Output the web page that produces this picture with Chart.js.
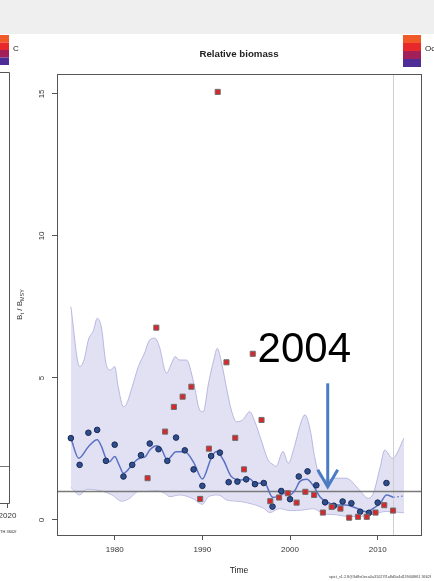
<!DOCTYPE html>
<html><head><meta charset="utf-8">
<script src="https://cdn.jsdelivr.net/npm/chart.js@4/dist/chart.umd.min.js"></script>
<style>html,body{margin:0;padding:0;background:#fff;}canvas{display:block;}</style>
</head><body>
<canvas id="c" width="434" height="581"></canvas>
<script>
// ---- data ----
const index1Years = [1975,1976,1977,1978,1979,1980,1981,1982,1983,1984,1985,1986,1987,1988,1989,1990,1991,1992,1993,1994,1995,1996,1997,1998,1999,2000,2001,2002,2003,2004,2005,2006,2007,2008,2009,2010,2011];
const index1Values = [2.88,1.94,3.07,3.17,2.08,2.65,1.53,1.94,2.28,2.69,2.49,2.08,2.90,2.45,1.78,1.20,2.25,2.37,1.33,1.35,1.43,1.26,1.30,0.47,1.02,0.73,1.53,1.71,1.22,0.62,0.50,0.65,0.59,0.29,0.25,0.61,1.30];

const index2Times = [1983.75,1984.75,1985.75,1986.75,1987.75,1988.75,1989.75,1990.75,1991.75,1992.75,1993.75,1994.75,1995.75,1996.75,1997.75,1998.75,1999.75,2000.75,2001.75,2002.75,2003.75,2004.75,2005.75,2006.75,2007.75,2008.75,2009.75,2010.75,2011.75];
const index2Values = [1.47,6.77,3.11,3.98,4.34,4.69,0.74,2.51,15.07,5.55,2.89,1.78,5.85,3.52,0.66,0.79,0.94,0.61,0.99,0.88,0.26,0.46,0.40,0.08,0.11,0.11,0.26,0.52,0.33];

const estTimes = [1975,1975.9,1977,1978,1978.5,1979,1979.4,1980,1980.5,1981,1981.5,1982,1982.5,1983,1983.5,1984,1984.8,1985.3,1986,1987,1988,1989,1990,1991,1991.6,1992.4,1993.3,1994.4,1995.4,1996,1997.1,1998,1998.6,1999.4,2000,2000.6,2001.1,2001.9,2002.6,2003.4,2004.1,2005.3,2006.4,2007.6,2008.7,2009.5,2010.3,2011,2011.75];
const estValues = [2.88,2.17,2.58,2.82,2.58,2.17,2.05,2.23,1.94,1.64,1.76,1.94,2.11,2.19,2.23,2.46,2.61,2.52,2.12,2.40,2.40,2.03,1.44,2.17,2.41,2.11,1.53,1.41,1.45,1.29,1.29,0.80,0.82,0.94,0.88,1.06,1.35,1.43,1.23,0.82,0.65,0.53,0.53,0.41,0.29,0.41,0.59,0.88,0.80];

const forecastTimes = [2011.75,2012.4,2013];
const forecastValues = [0.80,0.82,0.85];

const upperTimes = [1975,1976,1976.5,1977,1977.6,1978,1978.5,1979,1979.5,1980,1980.4,1981,1981.3,1982,1982.7,1983.4,1984,1984.6,1985.1,1985.9,1986.5,1986.9,1987.4,1988.2,1989,1989.7,1990.1,1990.7,1991.3,1991.7,1992.2,1992.8,1993.3,1993.9,1994.6,1995.4,1996,1996.7,1997.5,1998.1,1998.4,1999.2,1999.8,2000.5,2001.1,2001.7,2002.3,2002.8,2003.4,2004.3,2005.3,2006.4,2007.9,2008.9,2009.5,2010.3,2010.8,2011.7,2013];
const upperValues = [7.51,5.40,5.63,6.34,6.69,7.10,6.75,5.52,5.28,5.40,4.69,3.99,4.05,4.69,5.40,5.87,6.34,6.40,6.10,5.17,5.52,5.75,5.63,5.63,4.85,3.87,3.81,4.81,5.63,6.04,5.52,4.58,3.87,3.46,3.52,3.81,3.45,2.82,2.11,1.94,1.88,2.41,2.00,2.58,3.29,3.70,3.17,2.23,1.53,1.41,1.47,1.47,1.06,0.76,0.94,1.88,2.46,2.17,2.88];

const lowerTimes = [1975,1976,1976.8,1977.8,1978.7,1979.7,1980.8,1981.7,1982.7,1983.6,1984.7,1985.7,1986.3,1987.4,1989,1990,1990.7,1991.8,1992.8,1994.3,1995.8,1997,1997.7,1998.8,2000,2001.5,2002.6,2003.8,2005.3,2006.8,2008.3,2009.8,2011,2013];
const lowerValues = [1.15,0.88,1.08,1.06,1.00,0.88,0.66,0.76,1.00,1.00,1.03,0.94,0.82,0.88,0.74,0.55,0.82,0.88,0.70,0.65,0.55,0.41,0.26,0.40,0.33,0.35,0.40,0.23,0.18,0.12,0.13,0.23,0.30,0.25];

const xTicks = [1980,1990,2000,2010];
const yTicks = [0,5,10,15];
const xRange = [1973.42, 2014.94];
const yRange = [-0.53, 15.70];
const refLevel = 1;          // B/Bmsy = 1
const lastDataTime = 2011.75; // vertical grey line
const note = {text:'2004', time:1996.3, value:5.55, arrowTime:2004.3, arrowFrom:4.81, arrowTo:1.17};

const FONT = '"Liberation Sans", Arial, Helvetica, sans-serif';
const pts = (xs, ys) => xs.map((x,i)=>({x:x, y:ys[i]}));

const decor = {
  id:'decor',
  beforeDraw(chart){
    const ctx = chart.ctx;
    ctx.save();
    ctx.fillStyle='#fff'; ctx.fillRect(0,0,434,581);
    ctx.fillStyle='#efefef'; ctx.fillRect(0,0,434,34);
    const cols=['#f05a28','#e8292b','#a1205a','#4f2d96'];
    cols.forEach((c,i)=>{ ctx.fillStyle=c; ctx.fillRect(0,35+i*7.5,9,7.5); ctx.fillRect(403,35+i*8,18,8); });
    ctx.fillStyle='#222'; ctx.font='8px '+FONT; ctx.textBaseline='middle'; ctx.textAlign='left';
    ctx.fillText('C',13,49); ctx.fillText('Oc',425,49);
    // neighbouring panel edge on the left
    ctx.strokeStyle='#555'; ctx.lineWidth=1;
    ctx.beginPath(); ctx.moveTo(0,72.5); ctx.lineTo(9.5,72.5); ctx.lineTo(9.5,503.5); ctx.lineTo(0,503.5); ctx.stroke();
    ctx.strokeStyle='#777'; ctx.beginPath(); ctx.moveTo(0,466.5); ctx.lineTo(9,466.5); ctx.stroke();
    ctx.strokeStyle='#555'; ctx.beginPath(); ctx.moveTo(7.5,503.5); ctx.lineTo(7.5,508); ctx.stroke();
    ctx.fillStyle='#333'; ctx.textAlign='center'; ctx.fillText('2020',7.5,516);
    ctx.font='4px '+FONT; ctx.textAlign='left'; ctx.fillText('TH 3662f',0,532);
    ctx.restore();
  },
  beforeDatasetDraw(chart,args){
    if(args.index!==3) return;
    const ctx=chart.ctx, a=chart.chartArea, xs=chart.scales.x, ys=chart.scales.y;
    ctx.save();
    ctx.strokeStyle='#cfcfcf'; ctx.lineWidth=1;
    const vx=Math.round(xs.getPixelForValue(lastDataTime))+0.5;
    ctx.beginPath(); ctx.moveTo(vx,a.top); ctx.lineTo(vx,a.bottom); ctx.stroke();
    ctx.strokeStyle='#7a7a7a'; ctx.lineWidth=1.5;
    const hy=ys.getPixelForValue(refLevel);
    ctx.beginPath(); ctx.moveTo(a.left,hy); ctx.lineTo(a.right,hy); ctx.stroke();
    ctx.restore();
  },
  afterDraw(chart){
    const ctx=chart.ctx, a=chart.chartArea, xs=chart.scales.x, ys=chart.scales.y;
    ctx.save();
    ctx.strokeStyle='#555'; ctx.lineWidth=1;
    ctx.strokeRect(Math.round(a.left)+0.5, Math.round(a.top)+0.5, Math.round(a.right-a.left), Math.round(a.bottom-a.top));
    ctx.fillStyle='#222'; ctx.textAlign='center'; ctx.textBaseline='middle';
    ctx.font='bold 9.7px '+FONT; ctx.fillText('Relative biomass', 239, 54);
    ctx.font='8.5px '+FONT; ctx.fillText('Time', 239, 571);
    // y tick labels (rotated like R)
    ctx.font='8px '+FONT; ctx.fillStyle='#333';
    yTicks.forEach(v=>{ const py=ys.getPixelForValue(v); ctx.save(); ctx.translate(a.left-15.5,py); ctx.rotate(-Math.PI/2); ctx.fillText(String(v),0,0); ctx.restore(); });
    // y axis title B_t / B_MSY
    ctx.save(); ctx.translate(20,(a.top+a.bottom)/2); ctx.rotate(-Math.PI/2);
    const parts=[['B',8,0],['t',5.5,2],[' / ',8,0],['B',8,0],['MSY',5.5,2]];
    let w=0; parts.forEach(p=>{ctx.font=p[1]+'px '+FONT; w+=ctx.measureText(p[0]).width;});
    let cx=-w/2; ctx.textAlign='left';
    parts.forEach(p=>{ctx.font=p[1]+'px '+FONT; ctx.fillText(p[0],cx,p[2]); cx+=ctx.measureText(p[0]).width;});
    ctx.restore();
    // annotation
    ctx.fillStyle='#000'; ctx.textAlign='left'; ctx.textBaseline='alphabetic';
    ctx.font='42px '+FONT;
    ctx.fillText(note.text, xs.getPixelForValue(note.time), ys.getPixelForValue(note.value));
    const ax=xs.getPixelForValue(note.arrowTime), ay0=ys.getPixelForValue(note.arrowFrom), ay1=ys.getPixelForValue(note.arrowTo);
    ctx.strokeStyle='#4a7cc4'; ctx.lineWidth=3; ctx.lineCap='butt';
    ctx.beginPath(); ctx.moveTo(ax,ay0); ctx.lineTo(ax,ay1-2); ctx.stroke();
    ctx.lineJoin='miter';
    ctx.beginPath(); ctx.moveTo(ax-10,ay1-17); ctx.lineTo(ax,ay1); ctx.lineTo(ax+10,ay1-17); ctx.stroke();
    // footer
    ctx.fillStyle='#444'; ctx.font='3.8px '+FONT; ctx.textAlign='right'; ctx.textBaseline='middle';
    ctx.fillText('spict_v1.2.8@3d8e0eca0a31027f1a8d5e4d139408f61 3662f', 431, 577);
    ctx.restore();
  }
};

new Chart(document.getElementById('c').getContext('2d'), {
  type:'scatter',
  data:{datasets:[
    {label:'Index 2', data:pts(index2Times,index2Values), showLine:false, pointStyle:'rect', pointRadius:3.6, pointBackgroundColor:'#d8262b', pointBorderColor:'#6e6e6e', pointBorderWidth:1},
    {label:'Index 1', data:pts(index1Years,index1Values), showLine:false, pointStyle:'circle', pointRadius:2.8, pointBackgroundColor:'#2f4e8e', pointBorderColor:'#1a2a52', pointBorderWidth:1},
    {label:'Forecast', data:pts(forecastTimes,forecastValues), showLine:true, borderColor:'#7b90d0', borderWidth:1.2, borderDash:[2,2], pointRadius:0, cubicInterpolationMode:'monotone', fill:false},
    {label:'B/Bmsy', data:pts(estTimes,estValues), showLine:true, borderColor:'#5a72c4', borderWidth:1.5, pointRadius:0, cubicInterpolationMode:'monotone', fill:false},
    {label:'Upper CI', data:pts(upperTimes,upperValues), showLine:true, borderColor:'rgba(165,165,215,0.75)', borderWidth:1, pointRadius:0, cubicInterpolationMode:'monotone', fill:'+1', backgroundColor:'rgba(195,195,232,0.5)'},
    {label:'Lower CI', data:pts(lowerTimes,lowerValues), showLine:true, borderColor:'rgba(165,165,215,0.75)', borderWidth:1, pointRadius:0, cubicInterpolationMode:'monotone', fill:false}
  ]},
  options:{
    responsive:false, animation:false, devicePixelRatio:1,
    layout:{padding:{top:74,right:13,left:0,bottom:0}},
    plugins:{legend:{display:false}, title:{display:false}, tooltip:{enabled:false}},
    scales:{
      x:{type:'linear', min:xRange[0], max:xRange[1],
         afterBuildTicks:s=>{s.ticks=xTicks.map(v=>({value:v}));},
         afterFit:s=>{s.height=46;},
         ticks:{font:{size:8,family:FONT}, color:'#333', padding:5, maxRotation:0, autoSkip:false, callback:v=>String(v)},
         grid:{drawOnChartArea:false, drawTicks:true, tickLength:5, color:'#555'},
         border:{display:true, color:'#555', width:1}},
      y:{type:'linear', min:yRange[0], max:yRange[1],
         afterBuildTicks:s=>{s.ticks=yTicks.map(v=>({value:v}));},
         afterFit:s=>{s.width=57;},
         ticks:{display:false},
         grid:{drawOnChartArea:false, drawTicks:true, tickLength:5, color:'#555'},
         border:{display:true, color:'#555', width:1}}
    }
  },
  plugins:[decor]
});
</script>
</body></html>
